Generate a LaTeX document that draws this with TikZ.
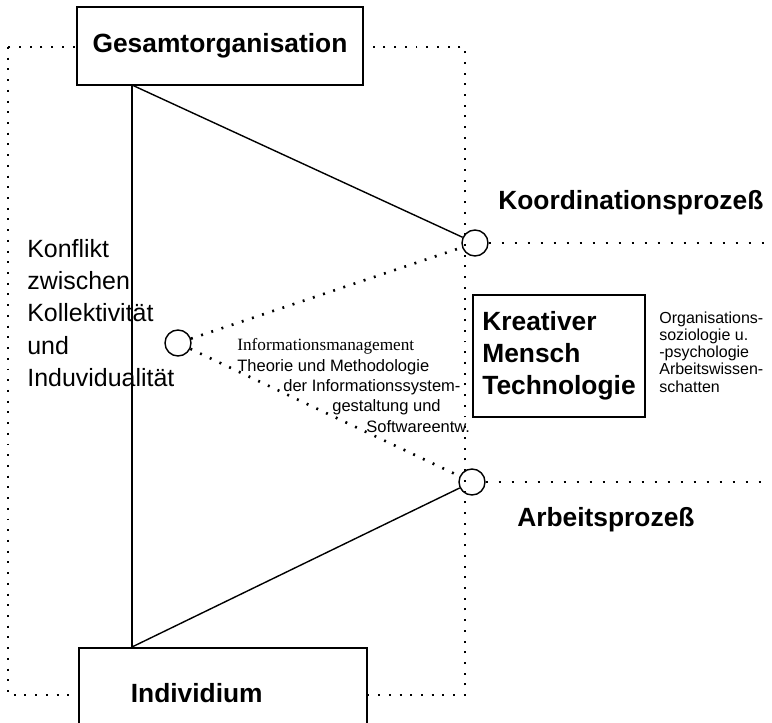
\documentclass[tikz,border=0pt]{standalone}
\usepackage{fontspec}
\setmainfont{Liberation Sans}
\newfontfamily\timesfont{Liberation Serif}
\begin{document}
\begin{tikzpicture}[x=0.02cm,y=-0.02cm,
    box/.style={draw,line width=1pt,fill=white,font=\fontsize{15}{18.2}\selectfont\bfseries},
    ring/.style={draw,circle,line width=0.8pt,minimum size=0.52cm,inner sep=0pt},
    dotline/.style={line width=1.5pt,dash pattern=on 1.1pt off 5pt},
    procname/.style={anchor=west,inner sep=0pt,font=\fontsize{15}{18}\selectfont\bfseries},
    note/.style={anchor=west,inner sep=0pt,font=\fontsize{9.4}{11}\selectfont}]
    \useasboundingbox (0,0) rectangle (772,723);

    % gepunkteter Rahmen
    \draw[dotline] (8,47) rectangle (465,695);

    \node[anchor=west,inner sep=0pt,align=left,font=\fontsize{14.2}{18.4}\selectfont] (konfltext) at (27,313)
        {Konflikt\\zwischen\\Kollektivität\\und\\Induvidualität};

    \node[box,minimum width=5.72cm,minimum height=1.56cm] (gesamt) at (220,46) {Gesamtorganisation};
    \node[box,anchor=north west,text width=3.68cm,inner xsep=1.04cm,inner ysep=0.72cm,align=left] (indiv) at (78,647) {Individium};
    \node[box,minimum width=3.44cm,minimum height=2.44cm,align=left] (kreativ) at (559,356) {Kreativer\\Mensch\\Technologie};

    \node[ring] (koord) at (475,243) {};
    \node[ring] (arbeit) at (472,482) {};
    \node[ring] (konflikt) at (178,343) {};

    \coordinate (gtop) at (132,85);
    \coordinate (gbot) at (132,647);
    \coordinate (kend) at (765,243);
    \coordinate (aend) at (765,482);

    \draw[line width=1.4pt] (gtop) -- (gbot);
    \draw[line width=0.8pt] (gtop) -- (koord);
    \draw[line width=0.8pt] (gbot) -- (arbeit);
    \draw[dotline] (konflikt) -- (koord);
    \draw[dotline] (konflikt) -- (arbeit);
    \draw[dotline,dash pattern=on 1.1pt off 6.3pt] (koord) -- (kend);
    \draw[dotline,dash pattern=on 1.1pt off 6.3pt] (arbeit) -- (aend);

    \node[procname] (koordname) at (498,203) {Koordinationsprozeß};
    \node[procname] (arbeitname) at (517,520) {Arbeitsprozeß};

    % Disziplinen
    \node[note,font=\fontsize{9.8}{11}\selectfont\timesfont] (infm) at (237,346) {Informationsmanagement};
    \node[note] (theo) at (237,367) {Theorie und Methodologie};
    \node[note] (isg) at (283,387) {der Informationssystem-};
    \node[note] (gest) at (332,407) {gestaltung und};
    \node[note] (swe) at (366,427) {Softwareentw.};

    \node[anchor=west,inner sep=0pt,align=left,font=\fontsize{9.1}{9.8}\selectfont] (orgsoz) at (659,352)
        {Organisations-\\soziologie u.\\-psychologie\\Arbeitswissen-\\schatten};
\end{tikzpicture}
\end{document}
